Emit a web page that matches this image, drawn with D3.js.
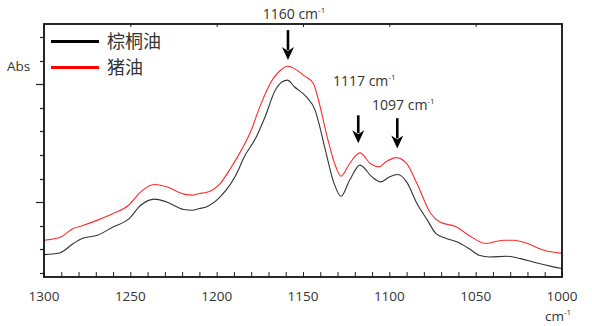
<!DOCTYPE html>
<html>
<head>
<meta charset="utf-8">
<script src="https://cdn.jsdelivr.net/npm/d3@7"></script>
<style>
  body { margin: 0; background: #fff; }
  text { font-family: "Open Sans", sans-serif; fill: #333; }
</style>
</head>
<body>
<svg id="chart" width="592" height="326"></svg>
<script>
// wavenumber (cm-1) / absorbance readings
const palmWn = [1300, 1291, 1283, 1278, 1269, 1260, 1251, 1244, 1236, 1229, 1219, 1214, 1210, 1206, 1198, 1187, 1185, 1177, 1172, 1166, 1162, 1159, 1155, 1148, 1143, 1141, 1137, 1132, 1128, 1123, 1117, 1110, 1105, 1100, 1095, 1090, 1084, 1078, 1073, 1067, 1061, 1054, 1048, 1042, 1032, 1024, 1015, 1005, 1000];
const palmAbs = [0.278, 0.285, 0.325, 0.346, 0.360, 0.395, 0.428, 0.487, 0.513, 0.501, 0.469, 0.466, 0.473, 0.480, 0.522, 0.643, 0.678, 0.777, 0.861, 0.975, 1.010, 1.017, 0.989, 0.946, 0.890, 0.840, 0.720, 0.579, 0.525, 0.593, 0.657, 0.607, 0.586, 0.607, 0.617, 0.586, 0.494, 0.424, 0.367, 0.346, 0.332, 0.304, 0.275, 0.268, 0.271, 0.261, 0.243, 0.226, 0.219];

const lardWn = [1300, 1291, 1283, 1278, 1269, 1260, 1251, 1244, 1236, 1229, 1219, 1214, 1210, 1206, 1198, 1192, 1188, 1180, 1175, 1169, 1163, 1159, 1157, 1149, 1144, 1141, 1136, 1131, 1128, 1123, 1117, 1111, 1106, 1102, 1096, 1090, 1084, 1076, 1071, 1061, 1054, 1044, 1034, 1028, 1020, 1011, 1000];
const lardAbs = [0.339, 0.350, 0.389, 0.400, 0.424, 0.452, 0.487, 0.544, 0.575, 0.565, 0.534, 0.530, 0.537, 0.541, 0.579, 0.643, 0.691, 0.805, 0.904, 1.003, 1.059, 1.076, 1.073, 1.034, 1.003, 0.932, 0.777, 0.650, 0.610, 0.664, 0.709, 0.664, 0.650, 0.671, 0.689, 0.664, 0.579, 0.452, 0.417, 0.395, 0.360, 0.325, 0.339, 0.339, 0.325, 0.297, 0.283];

const seriesNames = ["棕桐油", "猪油"];
const seriesColors = ["#333333", "#ff2a2a"];

const xTicks = [1300, 1250, 1200, 1150, 1100, 1050, 1000];
const peakLabels = ["1160", "1117", "1097"];
const peakArrowWn = [1158.7, 1118, 1095.4];
const peakArrowTop = [1.229, 0.868, 0.856];
const peakArrowTip = [1.102, 0.75, 0.728];
const peakLabelY = [1.278, 0.991, 0.891];

const svg = d3.select("#chart");
const margin = { top: 24, right: 30, bottom: 49, left: 44 };
const width = 592 - margin.left - margin.right;
const height = 326 - margin.top - margin.bottom;

const x = d3.scaleLinear().domain([1300, 1000]).range([margin.left, margin.left + width]);
const y = d3.scaleLinear().domain([0.183, 1.255]).range([margin.top + height, margin.top]);

const g = svg.append("g");

// series lines
const line = d3.line()
    .x(d => x(d[0]))
    .y(d => y(d[1]))
    .curve(d3.curveMonotoneX);

const series = [
    d3.zip(lardWn, lardAbs),
    d3.zip(palmWn, palmAbs)
];
[1, 0].forEach((s, i) => {
    g.append("path")
        .datum(series[i])
        .attr("fill", "none")
        .attr("stroke", seriesColors[s])
        .attr("stroke-width", 1.1)
        .attr("d", line);
});

// bottom axis with inward ticks
const bottom = g.append("g")
    .attr("transform", `translate(0,${margin.top + height})`);
bottom.call(d3.axisBottom(x).tickValues(d3.range(1300, 999, -10)).tickSize(-5).tickFormat(""))
    .call(a => a.select(".domain").remove())
    .call(a => a.selectAll("line").attr("stroke", "#222").attr("stroke-width", 1));
bottom.selectAll(".lbl")
    .data(xTicks)
    .join("text")
    .attr("x", d => x(d))
    .attr("y", 24)
    .attr("text-anchor", "middle")
    .style("font-size", "13.5px")
    .text(d => d);

// top ticks
g.append("g")
    .attr("transform", `translate(0,${margin.top})`)
    .call(d3.axisTop(x).tickValues(xTicks).tickSize(-3).tickFormat(""))
    .call(a => a.select(".domain").remove())
    .call(a => a.selectAll("line").attr("stroke", "#222"));

// left axis, outward ticks
const yTicks = d3.range(0.2, 1.21, 0.1);
g.append("g")
    .attr("transform", `translate(${margin.left},0)`)
    .selectAll("line")
    .data(yTicks)
    .join("line")
    .attr("x1", d => Math.abs(Math.round(d * 10) % 5) === 0 ? -8 : -4)
    .attr("x2", 0)
    .attr("y1", d => Math.round(y(d)) + 0.5)
    .attr("y2", d => Math.round(y(d)) + 0.5)
    .attr("stroke", "#222")
    .attr("stroke-width", 1.2);

// frame
g.append("rect")
    .attr("x", margin.left)
    .attr("y", margin.top)
    .attr("width", width)
    .attr("height", height)
    .attr("fill", "none")
    .attr("stroke", "#111")
    .attr("stroke-width", 1.8);

// axis titles
svg.append("text")
    .attr("x", 7)
    .attr("y", 71)
    .style("font-size", "13.5px")
    .text("Abs");

const unit = svg.append("text")
    .attr("x", 545)
    .attr("y", 321)
    .style("font-size", "13.5px")
    .text("cm");
unit.append("tspan")
    .attr("dy", -6)
    .style("font-size", "8px")
    .text("-1");

// legend
const legend = svg.append("g");
seriesNames.forEach((name, i) => {
    const ly = 41.5 + i * 26;
    legend.append("line")
        .attr("x1", 51).attr("x2", 99)
        .attr("y1", ly).attr("y2", ly)
        .attr("stroke", i === 0 ? "#000" : "#ff0000")
        .attr("stroke-width", 3);
    legend.append("text")
        .attr("x", 107)
        .attr("y", ly + 6.5)
        .style("font-family", "'Noto Sans CJK SC', sans-serif")
        .style("font-size", "18px")
        .text(name);
});

// peak annotations
peakLabels.forEach((lab, i) => {
    const ax = x(peakArrowWn[i]);
    const top = y(peakArrowTop[i]);
    const tip = y(peakArrowTip[i]);
    g.append("line")
        .attr("x1", ax).attr("x2", ax)
        .attr("y1", top).attr("y2", tip - 10)
        .attr("stroke", "#000")
        .attr("stroke-width", 2.6);
    g.append("path")
        .attr("d", `M${ax - 6},${tip - 13}L${ax},${tip}L${ax + 6},${tip - 13}L${ax},${tip - 9}Z`)
        .attr("fill", "#000");
    const t = g.append("text")
        .attr("x", ax + 6)
        .attr("y", y(peakLabelY[i]))
        .attr("text-anchor", "middle")
        .style("font-size", "14px")
        .text(lab + " cm");
    t.append("tspan")
        .attr("dy", -6)
        .style("font-size", "8px")
        .text("-1");
});
</script>
</body>
</html>
